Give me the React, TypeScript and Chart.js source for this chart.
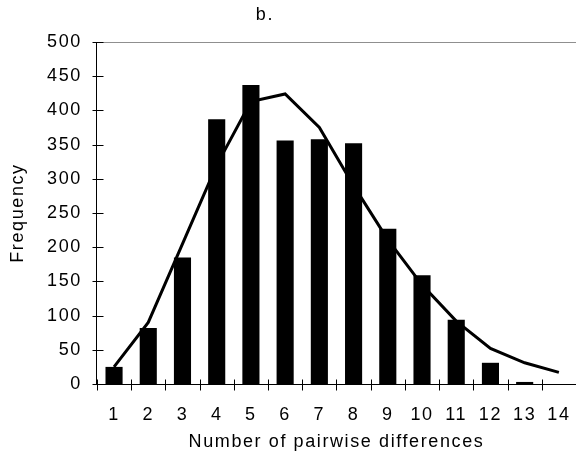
import React, { useEffect, useRef } from 'react';
import { Chart, registerables } from 'chart.js';

Chart.register(...registerables);

const categories = ['1', '2', '3', '4', '5', '6', '7', '8', '9', '10', '11', '12', '13', '14'];
const observed = [25, 82, 185, 387, 437, 356, 358, 352, 227, 159, 94, 31, 3, 0];
const expected = [25, 90, 205, 320, 413, 424, 375, 290, 211, 145, 92, 52, 31, 17];
const yMin = 0;
const yMax = 500;
const yStep = 50;
const chartTitle = 'b.';
const xTitle = 'Number of pairwise differences';
const yTitle = 'Frequency';

const FONT = "'Liberation Sans', Arial, Helvetica, sans-serif";
const LETTER_SPACING = '1.6px';

const spacing = {
  id: 'spacing',
  beforeUpdate(chart: any) {
    (chart.ctx as any).letterSpacing = LETTER_SPACING;
  },
  beforeLayout(chart: any) {
    (chart.ctx as any).letterSpacing = LETTER_SPACING;
  },
  beforeDraw(chart: any) {
    (chart.ctx as any).letterSpacing = LETTER_SPACING;
  },
};

const decorations = {
  id: 'decorations',
  afterDraw(chart: any) {
    const { ctx, chartArea, scales } = chart;
    const x = scales.x;
    const y = scales.y;
    ctx.save();
    // top frame line
    ctx.strokeStyle = '#8f8f8f';
    ctx.lineWidth = 1;
    ctx.beginPath();
    const ty = Math.round(chartArea.top) + 0.5;
    ctx.moveTo(chartArea.left, ty);
    ctx.lineTo(chartArea.right, ty);
    ctx.stroke();
    // crossing tick marks
    ctx.strokeStyle = '#000';
    ctx.lineWidth = 1;
    ctx.beginPath();
    const ax = Math.round(chartArea.left) + 0.5;
    y.ticks.forEach((t: any) => {
      const py = Math.round(y.getPixelForValue(t.value)) + 0.5;
      ctx.moveTo(ax - 5, py);
      ctx.lineTo(ax + 6, py);
    });
    const half = (x.getPixelForValue(1) - x.getPixelForValue(0)) / 2;
    const ay = Math.round(chartArea.bottom) + 0.5;
    for (let i = 0; i < categories.length; i++) {
      const px = Math.round(x.getPixelForValue(i) - half) + 0.5;
      ctx.moveTo(px, ay - 5);
      ctx.lineTo(px, ay + 6);
    }
    ctx.stroke();
    // chart title
    ctx.fillStyle = '#000';
    ctx.font = `18px ${FONT}`;
    ctx.textAlign = 'center';
    ctx.textBaseline = 'middle';
    ctx.fillText(chartTitle, chart.width * 0.46, 15);
    ctx.restore();
  },
};

export default function App() {
  const ref = useRef<HTMLCanvasElement | null>(null);

  useEffect(() => {
    if (!ref.current) return;
    Chart.defaults.font.family = FONT;
    Chart.defaults.color = '#000';
    const chart = new Chart(ref.current, {
      type: 'bar',
      data: {
        labels: categories,
        datasets: [
          {
            type: 'line',
            label: 'Expected',
            data: expected,
            borderColor: '#000',
            backgroundColor: '#000',
            borderWidth: 3,
            pointRadius: 0,
            tension: 0,
            fill: false,
            order: 0,
          } as any,
          {
            type: 'bar',
            label: 'Observed',
            data: observed,
            backgroundColor: '#000',
            borderWidth: 0,
            categoryPercentage: 1,
            barPercentage: 0.5,
            order: 1,
          },
        ],
      },
      options: {
        animation: false,
        responsive: false,
        maintainAspectRatio: false,
        layout: { padding: { top: 42, left: 7.5, right: 0, bottom: 0 } },
        plugins: {
          legend: { display: false },
          tooltip: { enabled: false },
          title: { display: false },
        },
        scales: {
          x: {
            type: 'category',
            offset: true,
            grid: { display: false, drawTicks: true, tickLength: 20, offset: true },
            border: { display: true, color: '#000', width: 1 },
            ticks: { color: '#000', font: { size: 18, family: FONT }, padding: 0, maxRotation: 0, autoSkip: false },
            title: {
              display: true,
              text: xTitle,
              color: '#000',
              font: { size: 18, family: FONT },
              padding: { top: 5.6, bottom: 8.2 },
            },
          },
          y: {
            type: 'linear',
            min: yMin,
            max: yMax,
            grid: { display: false, drawTicks: true, tickLength: 5 },
            border: { display: true, color: '#000', width: 1 },
            ticks: { stepSize: yStep, color: '#000', font: { size: 18, family: FONT }, padding: 10 },
            title: {
              display: true,
              text: yTitle,
              color: '#000',
              font: { size: 18, family: FONT },
              padding: { top: 0, bottom: 8 },
            },
          },
        },
      },
      plugins: [spacing, decorations],
    });
    return () => chart.destroy();
  }, []);

  return (
    <div style={{ position: 'fixed', left: 0, top: 0, width: 576, height: 461, background: '#fff' }}>
      <canvas ref={ref} width={576} height={461} style={{ display: 'block', width: 576, height: 461 }} />
    </div>
  );
}
